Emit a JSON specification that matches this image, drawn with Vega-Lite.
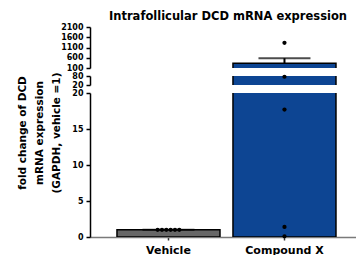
{
  "$schema": "https://vega.github.io/schema/vega-lite/v6.json",
  "padding": {"top": 10, "left": 17, "right": 0, "bottom": 0},
  "background": "white",
  "datasets": {
    "bars": [
      {"group": "Vehicle", "mean": 1, "upper": 1},
      {"group": "Compound X", "mean": 330, "upper": 578}
    ],
    "points": [
      {"group": "Vehicle", "rep": 1, "value": 1},
      {"group": "Vehicle", "rep": 2, "value": 1},
      {"group": "Vehicle", "rep": 3, "value": 1},
      {"group": "Vehicle", "rep": 4, "value": 1},
      {"group": "Vehicle", "rep": 5, "value": 1},
      {"group": "Vehicle", "rep": 6, "value": 1},
      {"group": "Compound X", "rep": 1, "value": 1330},
      {"group": "Compound X", "rep": 2, "value": 75},
      {"group": "Compound X", "rep": 3, "value": 17.7},
      {"group": "Compound X", "rep": 4, "value": 1.4},
      {"group": "Compound X", "rep": 5, "value": 0.1}
    ]
  },
  "config": {
    "view": {"stroke": null},
    "axis": {
      "grid": false,
      "labelFont": "DejaVu Sans",
      "labelFontWeight": "bold",
      "labelFontSize": 8,
      "labelColor": "black",
      "labelPadding": 3,
      "labelOverlap": false,
      "labelBound": false,
      "domainColor": "black",
      "domainWidth": 1.5,
      "tickColor": "black",
      "tickWidth": 1.5,
      "tickSize": 4,
      "titleFont": "DejaVu Sans",
      "titleFontWeight": "bold",
      "titleColor": "black"
    }
  },
  "resolve": {"scale": {"y": "independent", "x": "shared"}},
  "bounds": "flush",
  "spacing": 8,
  "vconcat": [
    {
      "width": 266,
      "height": 41,
      "title": {"text": "Intrafollicular DCD mRNA expression", "frame": "group", "anchor": "middle", "font": "DejaVu Sans", "fontWeight": "bold", "fontSize": 11.5, "offset": 1, "dx": 5, "color": "black"},
      "layer": [
        {
          "data": {"name": "bars"},
          "mark": {"type": "bar", "clip": true, "stroke": "black", "strokeWidth": 1.5},
          "encoding": {
            "x": {"field": "group", "type": "nominal", "sort": ["Vehicle", "Compound X"], "axis": null,
                  "scale": {"type": "band", "paddingInner": 0.112, "paddingOuter": 0.2026, "align": 0.574}},
            "y": {"field": "mean", "type": "quantitative", "scale": {"domain": [100, 2100], "zero": false, "nice": false},
                  "axis": {"values": [100, 600, 1100, 1600, 2100], "tickCount": 20, "format": "d", "labelOverlap": false, "title": null}},
            "y2": {"datum": 0},
            "color": {"field": "group", "type": "nominal", "scale": {"domain": ["Vehicle", "Compound X"], "range": ["#676767", "#0d4593"]}, "legend": null}
          }
        },
        {
          "data": {"name": "bars"},
          "mark": {"type": "rule", "clip": true, "color": "black", "strokeWidth": 2},
          "encoding": {
            "x": {"field": "group", "type": "nominal", "sort": ["Vehicle", "Compound X"], "scale": {"type": "band"}},
            "y": {"field": "mean", "type": "quantitative"},
            "y2": {"field": "upper"}
          }
        },
        {
          "data": {"name": "bars"},
          "mark": {"type": "tick", "clip": true, "color": "black", "size": 52, "thickness": 2},
          "encoding": {
            "x": {"field": "group", "type": "nominal", "sort": ["Vehicle", "Compound X"], "scale": {"type": "band"}},
            "y": {"field": "upper", "type": "quantitative"}
          }
        },
        {
          "data": {"name": "points"},
          "transform": [{"filter": "datum.group == 'Compound X' && datum.value >= 100"}],
          "mark": {"type": "circle", "color": "black", "opacity": 1, "size": 18},
          "encoding": {
            "x": {"field": "group", "type": "nominal", "sort": ["Vehicle", "Compound X"], "scale": {"type": "band"}},
            "y": {"field": "value", "type": "quantitative"}
          }
        }
      ]
    },
    {
      "width": 266,
      "height": 9,
      "layer": [
        {
          "data": {"name": "bars"},
          "mark": {"type": "bar", "clip": true, "stroke": "black", "strokeWidth": 1.5},
          "encoding": {
            "x": {"field": "group", "type": "nominal", "sort": ["Vehicle", "Compound X"], "axis": null,
                  "scale": {"type": "band", "paddingInner": 0.112, "paddingOuter": 0.2026, "align": 0.574}},
            "y": {"field": "mean", "type": "quantitative", "scale": {"domain": [20, 80], "zero": false, "nice": false},
                  "axis": {"values": [20, 80], "tickCount": 20, "format": "d", "labelOverlap": false, "title": null}},
            "y2": {"datum": 0},
            "color": {"field": "group", "type": "nominal", "scale": {"domain": ["Vehicle", "Compound X"], "range": ["#676767", "#0d4593"]}, "legend": null}
          }
        },
        {
          "data": {"name": "points"},
          "transform": [{"filter": "datum.group == 'Compound X' && datum.value >= 20 && datum.value < 100"}],
          "mark": {"type": "circle", "color": "black", "opacity": 1, "size": 18},
          "encoding": {
            "x": {"field": "group", "type": "nominal", "sort": ["Vehicle", "Compound X"], "scale": {"type": "band"}},
            "y": {"field": "value", "type": "quantitative"}
          }
        }
      ]
    },
    {
      "width": 266,
      "height": 144,
      "resolve": {"scale": {"xOffset": "independent"}},
      "layer": [
        {
          "data": {"name": "bars"},
          "mark": {"type": "bar", "clip": true, "stroke": "black", "strokeWidth": 1.5},
          "encoding": {
            "x": {"field": "group", "type": "nominal", "sort": ["Vehicle", "Compound X"],
                  "scale": {"type": "band", "paddingInner": 0.112, "paddingOuter": 0.2026, "align": 0.574},
                  "axis": {"title": null, "labelAngle": 0, "labelFontSize": 11, "labelPadding": 4, "tickSize": 3, "domainColor": "#7a7a7a", "tickColor": "#333333"}},
            "y": {"field": "mean", "type": "quantitative", "scale": {"domain": [0, 20], "nice": false},
                  "axis": {"values": [0, 5, 10, 15, 20], "tickCount": 20, "format": "d", "labelOverlap": false,
                           "title": ["fold change of DCD", "mRNA expression", "(GAPDH, vehicle =1)"],
                           "titleFontSize": 10.5, "titleLineHeight": 17, "titleY": 39.5, "titlePadding": 10}},
            "y2": {"datum": 0},
            "color": {"field": "group", "type": "nominal", "scale": {"domain": ["Vehicle", "Compound X"], "range": ["#676767", "#0d4593"]}, "legend": null}
          }
        },
        {
          "data": {"name": "bars"},
          "mark": {"type": "tick", "clip": true, "color": "black", "size": 52, "thickness": 2},
          "encoding": {
            "x": {"field": "group", "type": "nominal", "sort": ["Vehicle", "Compound X"], "scale": {"type": "band"}},
            "y": {"field": "upper", "type": "quantitative"}
          }
        },
        {
          "data": {"name": "points"},
          "transform": [{"filter": "datum.group == 'Vehicle'"}],
          "mark": {"type": "circle", "color": "black", "opacity": 1, "size": 18},
          "encoding": {
            "x": {"field": "group", "type": "nominal", "sort": ["Vehicle", "Compound X"], "scale": {"type": "band"}},
            "xOffset": {"field": "rep", "type": "ordinal", "scale": {"type": "point", "range": [38.5, 64.5]}},
            "y": {"field": "value", "type": "quantitative"}
          }
        },
        {
          "data": {"name": "points"},
          "transform": [{"filter": "datum.group == 'Compound X' && datum.value < 20"}],
          "mark": {"type": "circle", "color": "black", "opacity": 1, "size": 18},
          "encoding": {
            "x": {"field": "group", "type": "nominal", "sort": ["Vehicle", "Compound X"], "scale": {"type": "band"}},
            "y": {"field": "value", "type": "quantitative"}
          }
        }
      ]
    }
  ]
}
